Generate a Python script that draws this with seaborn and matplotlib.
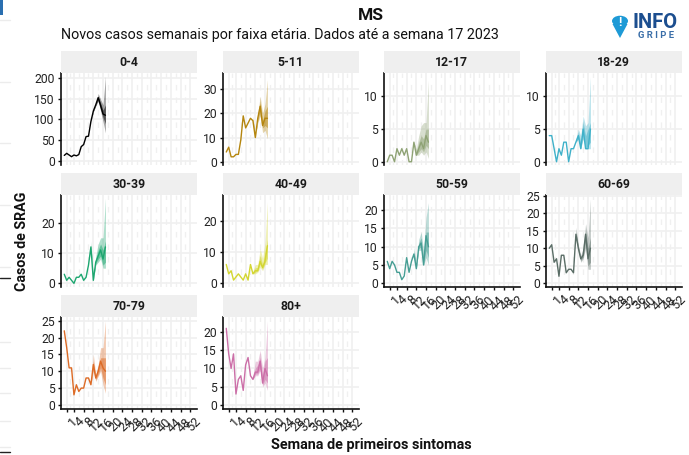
import matplotlib
matplotlib.use("Agg")
import matplotlib.pyplot as plt
from matplotlib.lines import Line2D
from matplotlib.patches import Circle, Polygon, Rectangle
from matplotlib.transforms import ScaledTranslation
import pandas as pd
import seaborn as sns

# semanas 0 (ultima do ano anterior) a 17
semanas = list(range(18))
# bandas so existem nas ultimas semanas
semanas_banda = [11, 12, 13, 14, 15, 16, 17]
xticks = [1, 4, 8, 12, 16, 20, 24, 28, 32, 36, 40, 44, 48, 52]

casos_0_4 = [14, 19, 15, 11, 15, 13, 16, 35, 40, 59, 60, 95, 120, 135, 152, 133, 113, 110]
inf95_0_4 = [95, 118, 132, 144, 120, 95, 68]
sup95_0_4 = [95, 122, 138, 162, 148, 135, 203]
inf50_0_4 = [95, 119, 134, 148, 127, 105, 90]
sup50_0_4 = [95, 121, 136, 156, 140, 122, 135]

casos_5_11 = [4, 6, 2, 2, 3, 3, 9, 19, 14, 16, 18, 17, 10, 18, 23, 15, 18, 18]
inf95_5_11 = [15, 10, 16, 19, 12, 13, 9.5]
sup95_5_11 = [19, 10, 20, 27, 20, 24, 34]
inf50_5_11 = [16, 10, 17, 21, 14, 15, 14]
sup50_5_11 = [18, 10, 19, 25, 17, 21, 23]

casos_12_17 = [0, 1, 1, 0, 2, 1, 2, 1, 2, 0, 0, 3, 1, 2, 3, 2, 4, 3]
inf95_12_17 = [3, 1, 1, 1.5, 1, 1.5, 0.5]
sup95_12_17 = [3, 2, 4, 5.5, 6, 6, 12.5]
inf50_12_17 = [3, 1, 1.5, 2, 1.5, 2.5, 2]
sup50_12_17 = [3, 1.5, 3, 4, 3.5, 5, 5]

casos_18_29 = [4, 4, 2, 0, 2, 1, 3, 3, 0, 2, 2, 3, 4, 2, 5, 2, 2, 5]
inf95_18_29 = [3, 3.5, 2, 3.5, 2, 2, 2]
sup95_18_29 = [3.5, 5, 4, 7, 5.5, 6, 13]
inf50_18_29 = [3, 3.5, 2, 4, 2, 2.5, 3]
sup50_18_29 = [3, 4.5, 3, 6, 4, 5, 6]

casos_30_39 = [3, 1, 2, 1, 0, 2, 2, 3, 1, 2, 6, 12, 1, 7, 9, 11, 8, 12]
inf95_30_39 = [11, 1, 6, 7, 8, 5, 5]
sup95_30_39 = [14, 1.5, 9, 13, 15, 15, 28]
inf50_30_39 = [11.5, 1, 6.5, 8, 9, 6, 7]
sup50_30_39 = [13, 1, 8, 11, 13, 11, 14]

casos_40_49 = [6, 3, 4, 1, 2, 3, 2, 1, 3, 1, 6, 3, 4, 4, 7, 5, 7, 12]
inf95_40_49 = [3, 3, 3.5, 5, 4, 6, 6]
sup95_40_49 = [4, 6, 6, 11, 8, 13, 26]
inf50_40_49 = [3, 3.5, 4, 6, 4.5, 6.5, 8]
sup50_40_49 = [3.5, 5, 5, 9, 6, 10, 14]

casos_50_59 = [6, 4, 6, 5, 3, 3, 1, 2, 7, 3, 6, 8, 4, 10, 11, 5, 13, 10]
inf95_50_59 = [7, 4, 9, 9, 5, 7, 5]
sup95_50_59 = [10, 5, 12, 14, 9, 18, 22]
inf50_50_59 = [7.5, 4, 9.5, 10, 5.5, 9, 7]
sup50_50_59 = [9, 4.5, 11, 12.5, 7, 14, 14]

casos_60_69 = [10, 11, 6, 7, 2, 8, 8, 3, 4, 4, 3, 14, 10, 7, 8, 14, 7, 10]
inf95_60_69 = [13, 9, 6, 7, 10, 4, 4]
sup95_60_69 = [16, 11, 8, 10, 17, 13, 24]
inf50_60_69 = [13.5, 9.5, 6.5, 7.5, 12, 5, 6]
sup50_60_69 = [15, 10.5, 7.5, 9, 15, 10, 13]

casos_70_79 = [22, 17, 11, 11, 3, 6, 4, 5, 5, 8, 8, 6, 12, 8, 10, 13, 11, 10]
inf95_70_79 = [6, 10, 7, 8.5, 10, 6, 3.5]
sup95_70_79 = [6, 15, 9, 12, 17, 17, 25]
inf50_70_79 = [6, 11, 7.5, 9, 11, 8, 6]
sup50_70_79 = [6, 13, 8.5, 11, 14, 14, 14]

casos_80 = [21, 14, 10, 14, 3, 7, 8, 4, 11, 13, 8, 7, 9, 9, 12, 6, 10, 8]
inf95_80 = [7, 8, 8, 9.5, 5, 6, 4]
sup95_80 = [8, 12, 12, 15, 10, 13, 23]
inf50_80 = [7, 8.5, 8.5, 10, 5.5, 7, 6]
sup50_80 = [7.5, 10, 11, 13, 8, 12, 13]

faixas = ["0-4", "5-11", "12-17", "18-29", "30-39", "40-49", "50-59", "60-69", "70-79", "80+"]
cores = ["#000000", "#b5860f", "#8fa375", "#3fb1c9", "#1ca66f",
         "#d3d631", "#469e94", "#5a6d66", "#dd6b26", "#cc6fa8"]
series = [
    (casos_0_4, inf95_0_4, sup95_0_4, inf50_0_4, sup50_0_4),
    (casos_5_11, inf95_5_11, sup95_5_11, inf50_5_11, sup50_5_11),
    (casos_12_17, inf95_12_17, sup95_12_17, inf50_12_17, sup50_12_17),
    (casos_18_29, inf95_18_29, sup95_18_29, inf50_18_29, sup50_18_29),
    (casos_30_39, inf95_30_39, sup95_30_39, inf50_30_39, sup50_30_39),
    (casos_40_49, inf95_40_49, sup95_40_49, inf50_40_49, sup50_40_49),
    (casos_50_59, inf95_50_59, sup95_50_59, inf50_50_59, sup50_50_59),
    (casos_60_69, inf95_60_69, sup95_60_69, inf50_60_69, sup50_60_69),
    (casos_70_79, inf95_70_79, sup95_70_79, inf50_70_79, sup50_70_79),
    (casos_80, inf95_80, sup95_80, inf50_80, sup50_80),
]
limites_y = [(-8.9, 211), (-1.4, 36.8), (-0.5, 13.6), (-0.5, 13.6), (-1.2, 29.1),
             (-1.2, 28.2), (-1, 24.1), (-1.06, 25.2), (-1.2, 26.1), (-1.1, 24.1)]
yticks = [[0, 50, 100, 150, 200], [0, 10, 20, 30], [0, 5, 10], [0, 5, 10], [0, 10, 20],
          [0, 10, 20], [0, 5, 10, 15, 20], [0, 5, 10, 15, 20, 25], [0, 5, 10, 15, 20, 25],
          [0, 5, 10, 15, 20]]

W, H = 689, 455
sns.set_theme(style="white")
plt.rcParams["font.family"] = ["Roboto", "DejaVu Sans"]
fig = plt.figure(figsize=(W / 100, H / 100), dpi=100)

def fx(px):
    return px / W

def fy(py):
    return 1 - py / H

col_x = [61, 223, 384, 546]
lin_y = [73, 195, 317]
larg, alt = 135.5, 92
cinza = "#f0f0f0"
# rotulos do eixo x ficam um pouco a direita do tick
desloc = ScaledTranslation(4 / 100, 0, fig.dpi_scale_trans)

for i, faixa in enumerate(faixas):
    lin, col = i // 4, i % 4
    x0, y0 = col_x[col], lin_y[lin]
    ax = fig.add_axes([fx(x0), fy(y0 + alt), larg / W, alt / H])
    casos, inf95, sup95, inf50, sup50 = series[i]
    cor = cores[i]
    df = pd.DataFrame({"semana": semanas, "casos": casos})

    ax.fill_between(semanas_banda, inf95, sup95, color=cor, alpha=0.35, lw=0, zorder=3)
    ax.fill_between(semanas_banda, inf50, sup50, color=cor, alpha=0.5, lw=0, zorder=3)
    sns.lineplot(data=df, x="semana", y="casos", color=cor, lw=1.0, ax=ax, zorder=4)

    ax.set_xlim(-1.35, 54.6)
    ax.set_ylim(*limites_y[i])
    ax.set_xticks(xticks)
    ax.set_xticks([2.5, 6, 10, 14, 18, 22, 26, 30, 34, 38, 42, 46, 50], minor=True)
    ax.set_yticks(yticks[i])
    ax.grid(True, which="major", color=cinza, lw=1.2)
    ax.grid(True, which="minor", axis="x", color=cinza, lw=1.0, ls=(0, (4, 5)))
    ax.set_axisbelow(True)
    ax.set_xlabel("")
    ax.set_ylabel("")
    ax.tick_params(axis="y", which="major", left=True, length=2.5, width=1, color="#111111",
                   labelsize=8.7, labelcolor="#222222", pad=2)
    ax.tick_params(axis="x", which="minor", bottom=False)

    tem_eixo_x = lin == 2 or (lin == 1 and col >= 2)
    if tem_eixo_x:
        ax.tick_params(axis="x", which="major", bottom=True, length=2.5, width=1, color="#111111",
                       labelsize=9.2, labelcolor="#222222", pad=2)
        ax.set_xticklabels([str(t) for t in xticks], rotation=45, ha="right", rotation_mode="anchor")
        for rotulo in ax.get_xticklabels():
            rotulo.set_transform(rotulo.get_transform() + desloc)
    else:
        ax.tick_params(axis="x", which="major", bottom=False, labelbottom=False)

    for lado in ["top", "right"]:
        ax.spines[lado].set_visible(False)
    ax.spines["left"].set_color("#111111")
    ax.spines["left"].set_linewidth(1.2)
    ax.spines["bottom"].set_visible(tem_eixo_x)
    ax.spines["bottom"].set_color("#111111")
    ax.spines["bottom"].set_linewidth(1.2)

    # faixa do titulo do painel
    fig.patches.append(Rectangle((fx(x0), fy(y0)), larg / W, 22 / H, transform=fig.transFigure,
                                 facecolor="#efefef", edgecolor="none"))
    fig.text(fx(x0 + larg / 2), fy(y0 - 11), faixa, ha="center", va="center",
             fontsize=8.8, fontweight="bold", color="#1a1a1a")

fig.text(fx(371), fy(15), "MS", ha="center", va="center", fontsize=12.5, fontweight="bold", color="#111111")
fig.text(fx(61), fy(35), "Novos casos semanais por faixa etária. Dados até a semana 17 2023",
         ha="left", va="center", fontsize=10.3, color="#111111")
fig.text(fx(371), fy(445), "Semana de primeiros sintomas", ha="center", va="center",
         fontsize=10.4, fontweight="bold", color="#111111")
fig.text(fx(22), fy(241), "Casos de SRAG", ha="center", va="center", rotation=90,
         fontsize=10.3, fontweight="bold", color="#111111")

# logo
azul = "#1e9ad6"
fig.patches.append(Circle((fx(620), fy(21)), 8 / W, transform=fig.transFigure, facecolor=azul, edgecolor="none"))
fig.patches.append(Polygon([(fx(612.5), fy(24)), (fx(627.5), fy(24)), (fx(620), fy(38))],
                           transform=fig.transFigure, facecolor=azul, edgecolor="none"))
fig.text(fx(620), fy(22), "!", ha="center", va="center", fontsize=9, fontweight="bold", color="white")
fig.text(fx(655), fy(22.5), "INFO", ha="center", va="center", fontsize=14.5, fontweight="bold", color="#1c4e8f")
fig.text(fx(655.5), fy(35), "G R I P E", ha="center", va="center", fontsize=6.8, fontweight="bold", color="#3a6ea8")

# restos da pagina recortada na margem esquerda
for py in [20, 82, 143, 205, 267, 342, 368, 393, 421, 447]:
    fig.add_artist(Line2D([0, fx(10)], [fy(py), fy(py)], color="#ececec", lw=1))
for py in [278, 452]:
    fig.add_artist(Line2D([0, fx(10)], [fy(py), fy(py)], color="#222222", lw=1))
fig.patches.append(Rectangle((0, fy(15)), 3 / W, 15 / H, transform=fig.transFigure,
                             facecolor="#2a6fb0", edgecolor="none"))

fig.savefig("out.png", dpi=100)
